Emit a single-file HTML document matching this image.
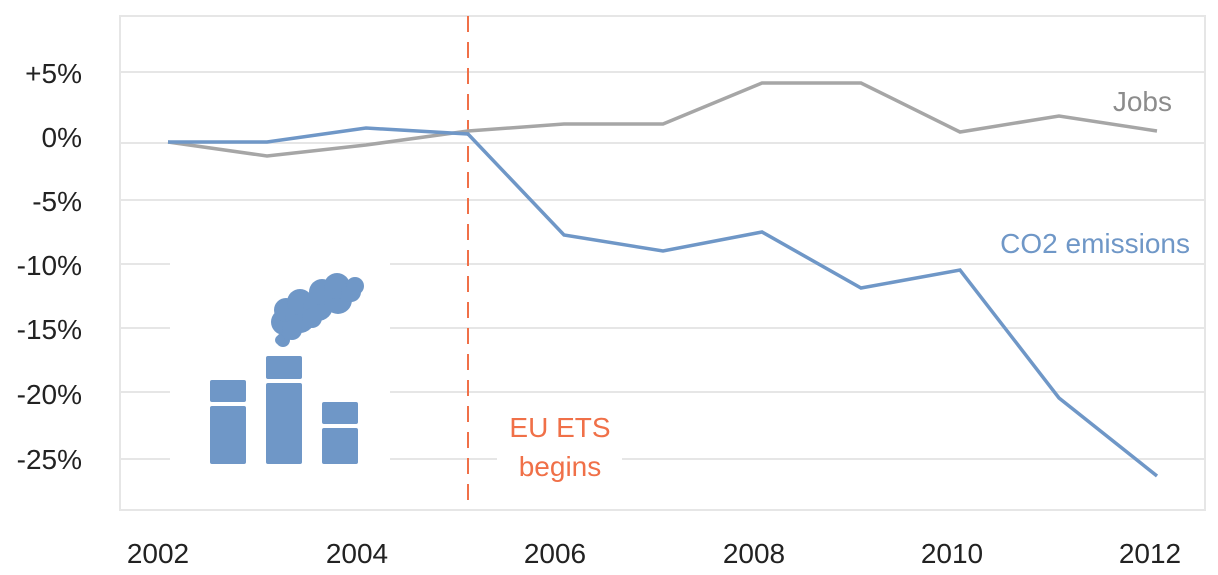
<!DOCTYPE html><html><head><style>body{margin:0;background:#fff}svg{display:block}text{font-family:"Liberation Sans",sans-serif}</style></head><body>
<svg width="1218" height="575" viewBox="0 0 1218 575">
<g stroke="#e6e6e6" stroke-width="2" fill="none">
<rect x="120" y="16" width="1085" height="494"/>
<line x1="120" y1="72" x2="1205" y2="72"/><line x1="120" y1="143" x2="1205" y2="143"/>
<line x1="120" y1="200" x2="1205" y2="200"/><line x1="120" y1="264" x2="1205" y2="264"/>
<line x1="120" y1="328" x2="1205" y2="328"/><line x1="120" y1="392" x2="1205" y2="392"/>
<line x1="120" y1="459" x2="1205" y2="459"/>
</g>
<rect x="170" y="255" width="220" height="210" fill="#fff"/>
<rect x="497" y="400" width="125" height="80" fill="#fff"/>
<line x1="468" y1="16" x2="468" y2="510" stroke="#f07048" stroke-width="2" stroke-dasharray="16,10"/>
<polyline fill="none" stroke="#a6a6a6" stroke-width="3.5" points="168,142 267,156 366,145 468,131 564,124 663,124 762,83 861,83 960,132 1059,116 1157,131"/>
<polyline fill="none" stroke="#6f97c7" stroke-width="3.5" points="168,142 267,142 366,128 468,134 564,235 663,251 762,232 861,288 960,270 1059,398 1157,476"/>
<g fill="#6f97c7">
<rect x="210" y="380" width="36" height="22" rx="2"/><rect x="210" y="406" width="36" height="58" rx="2"/>
<rect x="266" y="356" width="36" height="23" rx="2"/><rect x="266" y="383" width="36" height="81" rx="2"/>
<rect x="322" y="402" width="36" height="22" rx="2"/><rect x="322" y="428" width="36" height="36" rx="2"/>
<circle cx="283" cy="340" r="7"/><circle cx="284" cy="322" r="13"/><circle cx="286" cy="310" r="12"/><circle cx="300" cy="318" r="15"/><circle cx="300" cy="302" r="13"/>
<circle cx="318" cy="306" r="15"/><circle cx="322" cy="292" r="13"/><circle cx="338" cy="300" r="14"/><circle cx="337" cy="286" r="13"/><circle cx="351" cy="292" r="10"/><circle cx="355" cy="286" r="9"/><circle cx="292" cy="330" r="10"/><circle cx="312" cy="318" r="10"/><circle cx="280" cy="340" r="5"/>
</g>
<g font-size="28" fill="#222" text-anchor="end">
<text x="82" y="83">+5%</text><text x="82" y="147">0%</text><text x="82" y="211">-5%</text><text x="82" y="275">-10%</text><text x="82" y="339">-15%</text><text x="82" y="404">-20%</text><text x="82" y="469">-25%</text>
</g>
<g font-size="28" fill="#222" text-anchor="middle">
<text x="158" y="563">2002</text><text x="357" y="563">2004</text><text x="555" y="563">2006</text><text x="754" y="563">2008</text><text x="952" y="563">2010</text><text x="1150" y="563">2012</text>
</g>
<text x="1172" y="111" font-size="28" fill="#8c8c8c" text-anchor="end">Jobs</text>
<text x="1190" y="253" font-size="28" fill="#6f97c7" text-anchor="end">CO2 emissions</text>
<text x="560" y="437" font-size="28" fill="#f07048" text-anchor="middle">EU ETS</text>
<text x="560" y="476" font-size="28" fill="#f07048" text-anchor="middle">begins</text>
</svg></body></html>
